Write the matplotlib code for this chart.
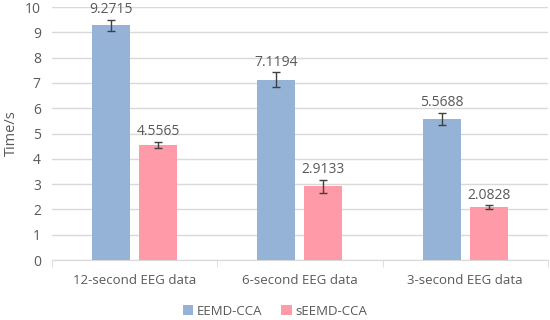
import matplotlib.pyplot as plt
import numpy as np

categories = ['12-second EEG data', '6-second EEG data', '3-second EEG data']
eemd_cca = [9.2715, 7.1194, 5.5688]
seemd_cca = [4.5565, 2.9133, 2.0828]
eemd_err = [0.22, 0.30, 0.25]
seemd_err = [0.12, 0.25, 0.08]

plt.rcParams['font.family'] = ['Open Sans', 'DejaVu Sans']
gray = '#595959'

fig = plt.figure(figsize=(5.5, 3.2), dpi=100)
ax = fig.add_axes([0.0945, 0.1875, 0.9015, 0.7905])

x = np.arange(len(categories))
w = 0.23
off = 0.142
ecfg = dict(ecolor='#404040', elinewidth=1.0, capsize=3, capthick=1.0)
b1 = ax.bar(x - off, eemd_cca, w, yerr=eemd_err, color='#95B3D7', label='EEMD-CCA',
            error_kw=ecfg, zorder=3)
b2 = ax.bar(x + off, seemd_cca, w, yerr=seemd_err, color='#FF9AA8', label='sEEMD-CCA',
            error_kw=ecfg, zorder=3)

for xs, vals, errs in [(x - off, eemd_cca, eemd_err), (x + off, seemd_cca, seemd_err)]:
    for xi, v, e in zip(xs, vals, errs):
        ax.annotate(f'{v:.4f}', (xi, v + e), xytext=(0, 2), textcoords='offset points',
                    ha='center', va='bottom', fontsize=10, color=gray)

ax.set_xlim(-0.5, 2.5)
ax.set_ylim(0, 10)
ax.set_yticks(range(0, 11))
ax.yaxis.grid(True, color='#D9D9D9', linewidth=1.0, zorder=0)
ax.set_axisbelow(True)
ax.set_xticks(x)
ax.set_xticklabels(categories)
ax.set_xticks([-0.5, 0.5, 1.5, 2.5], minor=True)
ax.tick_params(axis='x', which='major', length=0, pad=10, labelsize=9.5, labelcolor=gray)
ax.tick_params(axis='x', which='minor', length=5, color='#D9D9D9', direction='out')
ax.tick_params(axis='y', length=0, labelsize=10, labelcolor=gray, pad=8)
for s in ['top', 'right', 'left']:
    ax.spines[s].set_visible(False)
ax.spines['bottom'].set_color('#D9D9D9')
ax.set_ylabel('Time/s', fontsize=10.5, color=gray, labelpad=4)

fig.legend(handles=[b1, b2], loc='center', bbox_to_anchor=(0.5, 0.028), ncol=2,
           frameon=False, fontsize=9.5, labelcolor=gray, handlelength=0.8, handleheight=0.8,
           handletextpad=0.3, columnspacing=1.4)

fig.savefig('out.png', dpi=100)
